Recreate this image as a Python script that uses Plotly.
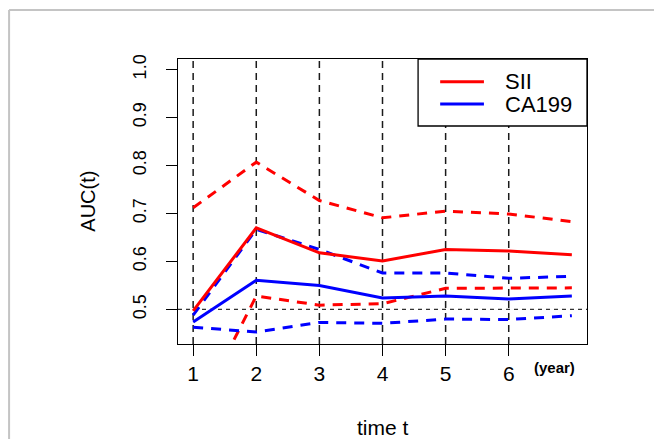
import plotly.graph_objects as go

years = [1, 2, 3, 4, 5, 6, 7]
sii_auc = [0.497, 0.670, 0.618, 0.601, 0.625, 0.622, 0.614]
sii_upper = [0.712, 0.807, 0.727, 0.691, 0.705, 0.699, 0.683]
sii_lower = [0.270, 0.528, 0.509, 0.512, 0.544, 0.545, 0.545]
ca199_auc = [0.474, 0.561, 0.550, 0.524, 0.528, 0.522, 0.528]
ca199_upper = [0.488, 0.667, 0.625, 0.576, 0.576, 0.565, 0.569]
ca199_lower = [0.463, 0.453, 0.473, 0.471, 0.480, 0.479, 0.487]
xticks = [1, 2, 3, 4, 5, 6]
yticks = [0.5, 0.6, 0.7, 0.8, 0.9, 1.0]
ytick_labels = ["0.5", "0.6", "0.7", "0.8", "0.9", "1.0"]
series_names = ["SII", "CA199"]

RED = "#ff0000"
BLUE = "#0000ff"
FONT = "Liberation Sans, Arial, sans-serif"

fig = go.Figure()
for ys, col, dash in [
    (sii_upper, RED, "10px,8px"),
    (sii_lower, RED, "10px,8px"),
    (ca199_upper, BLUE, "10px,8px"),
    (ca199_lower, BLUE, "10px,8px"),
    (sii_auc, RED, "solid"),
    (ca199_auc, BLUE, "solid"),
]:
    fig.add_trace(go.Scatter(x=years, y=ys, mode="lines", showlegend=False,
                             line=dict(color=col, width=3, dash=dash)))

shapes = []
for xv in xticks:
    shapes.append(dict(type="line", xref="x", yref="paper", x0=xv, x1=xv, y0=0, y1=1,
                       line=dict(color="#1a1a1a", width=1.5, dash="7px,5px"), layer="below"))
shapes.append(dict(type="line", xref="paper", yref="y", x0=0, x1=1, y0=0.5, y1=0.5,
                   line=dict(color="#333333", width=1.3, dash="4px,4px"), layer="below"))
# legend box
shapes.append(dict(type="rect", xref="paper", yref="paper", x0=0.587, x1=1.0, y0=0.765, y1=1.0,
                   fillcolor="white", line=dict(color="black", width=1.3), layer="above"))
leg_y = [0.920, 0.842]
for name, col, yy in zip(series_names, [RED, BLUE], leg_y):
    shapes.append(dict(type="line", xref="paper", yref="paper", x0=0.641, x1=0.748, y0=yy, y1=yy,
                       line=dict(color=col, width=3), layer="above"))
# outer frame lines
shapes.append(dict(type="line", xref="paper", yref="paper", x0=-0.413, x1=1.2, y0=1.172, y1=1.172,
                   line=dict(color="#c4c4c4", width=2), layer="above"))
shapes.append(dict(type="line", xref="paper", yref="paper", x0=-0.413, x1=-0.413, y0=1.172, y1=-0.4,
                   line=dict(color="#c4c4c4", width=2), layer="above"))

annotations = []
for name, yy in zip(series_names, leg_y):
    annotations.append(dict(text=name, xref="paper", yref="paper", x=0.795, y=yy,
                            xanchor="left", yanchor="middle", showarrow=False,
                            font=dict(size=22, color="black", family=FONT)))
annotations.append(dict(text="<b>(year)</b>", xref="x", yref="paper", x=6.72, y=-0.081,
                        xanchor="center", yanchor="middle", showarrow=False,
                        font=dict(size=15, color="black", family=FONT)))
annotations.append(dict(text="time t", xref="paper", yref="paper", x=0.5, y=-0.292,
                        xanchor="center", yanchor="middle", showarrow=False,
                        font=dict(size=21, color="black", family=FONT)))
annotations.append(dict(text="AUC(t)", xref="paper", yref="paper", x=-0.222, y=0.5,
                        xanchor="center", yanchor="middle", showarrow=False, textangle=-90,
                        font=dict(size=20, color="black", family=FONT)))

fig.update_layout(
    width=654, height=439,
    margin=dict(l=178, r=67, t=59, b=95),
    paper_bgcolor="white", plot_bgcolor="white",
    font=dict(family=FONT, color="black"),
    shapes=shapes, annotations=annotations, showlegend=False,
    xaxis=dict(range=[0.76, 7.24], tickvals=xticks, ticks="outside", ticklen=11,
               tickwidth=1.3, tickcolor="black", showline=True, mirror=True,
               linecolor="black", linewidth=1.3, showgrid=False, zeroline=False,
               tickfont=dict(size=21, family=FONT, color="black")),
    yaxis=dict(range=[0.428, 1.022], tickvals=yticks, ticktext=ytick_labels, ticks="outside",
               ticklen=11, tickwidth=1.3, tickcolor="black", showline=True, mirror=True,
               linecolor="black", linewidth=1.3, showgrid=False, zeroline=False, tickangle=-90,
               ticklabelstandoff=13,
               tickfont=dict(size=18, family=FONT, color="black")),
)

fig.write_html("out.html")
